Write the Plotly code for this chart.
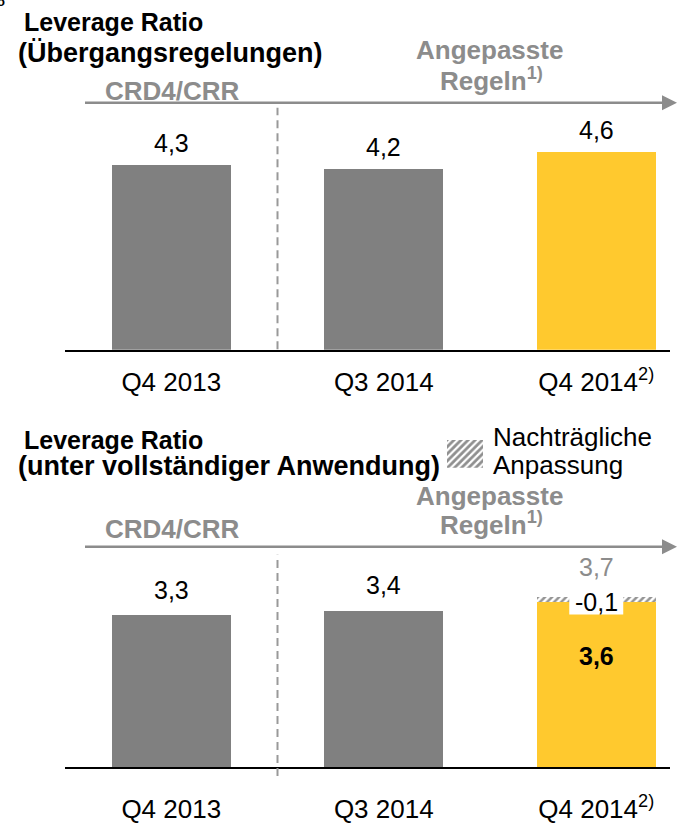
import plotly.graph_objects as go

# ---------------- data ----------------
categories = ["Q4 2013", "Q3 2014", "Q4 2014"]
tick_labels = ["Q4 2013", "Q3 2014", "Q4 2014<sup>2)</sup>"]
transitional_values = [4.3, 4.2, 4.6]          # Leverage Ratio (Übergangsregelungen)
fully_loaded_values = [3.3, 3.4, 3.6]          # Leverage Ratio (unter vollständiger Anwendung)
fully_loaded_reported = 3.7                    # before retrospective adjustment
adjustment = -0.1                              # Nachträgliche Anpassung

GRAY_BAR = "#808080"
YELLOW = "#FFC92E"
GRAY_TXT = "#8C8C8C"
bar_colors = [GRAY_BAR, GRAY_BAR, YELLOW]

W, H = 681, 824
FONT = "Liberation Sans, Arial, sans-serif"


def px(x):
    return x / W


def py(y):
    return 1 - y / H


def fmt(v):
    return f"{v:.1f}".replace(".", ",")


fig = go.Figure()

# top panel bars
fig.add_trace(go.Bar(x=categories, y=transitional_values, marker=dict(color=bar_colors, line=dict(width=0)),
                     width=0.56, xaxis="x", yaxis="y", hoverinfo="skip"))
# bottom panel bars
fig.add_trace(go.Bar(x=categories, y=fully_loaded_values, marker=dict(color=bar_colors, line=dict(width=0)),
                     width=0.56, xaxis="x2", yaxis="y2", hoverinfo="skip"))
# hatched adjustment on top of Q4 2014
fig.add_trace(go.Bar(x=[categories[2]], y=[-adjustment], base=[fully_loaded_values[2]],
                     marker=dict(color="white", line=dict(width=0),
                                 pattern=dict(shape="/", fgcolor="#2a2a2a", bgcolor="white", size=5, solidity=0.5)),
                     width=0.56, xaxis="x2", yaxis="y2", hoverinfo="skip"))
# legend key (hatched square)
fig.add_trace(go.Bar(x=[0.5], y=[1], width=1,
                     marker=dict(color="white", line=dict(width=0),
                                 pattern=dict(shape="/", fgcolor="#1f1f1f", bgcolor="white", size=5, solidity=0.55)),
                     xaxis="x3", yaxis="y3", hoverinfo="skip"))

top_base, top_top, top_ppu = 350.7, 103, 43.2
bot_base, bot_top, bot_ppu = 769, 548, 46.2
x_left, x_right, step = 65, 670, 212.5
xrange_ = [-0.5, -0.5 + (x_right - x_left) / step]

xaxis_common = dict(type="category", tickvals=categories, ticktext=tick_labels, range=xrange_,
                    showline=True, linecolor="black", linewidth=2, ticks="", showgrid=False,
                    zeroline=False, tickfont=dict(family=FONT, size=26, color="black"), fixedrange=True)

fig.update_layout(
    width=W, height=H, margin=dict(l=0, r=0, t=0, b=0),
    paper_bgcolor="white", plot_bgcolor="white", showlegend=False, barmode="overlay",
    bargap=0,
    xaxis=dict(domain=[px(x_left), px(x_right)], anchor="y", ticklabelstandoff=8, **xaxis_common),
    yaxis=dict(domain=[py(top_base), py(top_top)], range=[0, (top_base - top_top) / top_ppu], visible=False,
               fixedrange=True),
    xaxis2=dict(domain=[px(x_left), px(x_right)], anchor="y2", ticklabelstandoff=18, **xaxis_common),
    yaxis2=dict(domain=[py(bot_base), py(bot_top)], range=[0, (bot_base - bot_top) / bot_ppu], visible=False,
                fixedrange=True),
    xaxis3=dict(domain=[px(447), px(483)], anchor="y3", range=[0, 1], visible=False, fixedrange=True),
    yaxis3=dict(domain=[py(469), py(441)], range=[0, 1], visible=False, fixedrange=True),
)

ann = []


def text(x, y, s, size=26, color="black", bold=False, xanchor="left", xref="paper", yref="paper",
         yanchor="middle", yshift=0):
    if bold:
        s = f"<b>{s}</b>"
    ann.append(dict(x=x, y=y, xref=xref, yref=yref, text=s, showarrow=False, xanchor=xanchor,
                    yanchor=yanchor, yshift=yshift, font=dict(family=FONT, size=size, color=color),
                    borderpad=0))


# titles
text(px(23), py(22), "Leverage Ratio", size=25, bold=True)
text(px(17), py(53), "(Übergangsregelungen)", size=27, bold=True)
text(px(23), py(441), "Leverage Ratio", size=25, bold=True)
text(px(17), py(467), "(unter vollständiger Anwendung)", size=27, bold=True)
text(px(1), py(2), "o", size=13, bold=True, xanchor="center")

# legend text
text(px(492), py(438), "Nachträgliche")
text(px(492), py(466), "Anpassung")

# regime labels
for (yc, ya, yr) in [(91, 50, 80), (530, 497, 525)]:
    text(px(173), py(yc), "CRD4/CRR", color=GRAY_TXT, bold=True, xanchor="center")
    text(px(489), py(ya), "Angepasste", color=GRAY_TXT, bold=True, xanchor="center")
    text(px(491), py(yr), "Regeln<sup>1)</sup>", color=GRAY_TXT, bold=True, xanchor="center")

# value labels
for c, v in zip(categories, transitional_values):
    text(c, v, fmt(v), size=25, xanchor="center", xref="x", yref="y", yshift=22)
for c, v in zip(categories[:2], fully_loaded_values[:2]):
    text(c, v, fmt(v), size=25, xanchor="center", xref="x2", yref="y2", yshift=25)
text(categories[2], fully_loaded_reported, fmt(fully_loaded_reported), size=25, color=GRAY_TXT,
     xanchor="center", xref="x2", yref="y2", yshift=30)
text(categories[2], fully_loaded_reported, fmt(adjustment), size=25, xanchor="center", xref="x2", yref="y2",
     yshift=-5)
text(categories[2], fully_loaded_values[2] / 2, fmt(fully_loaded_values[2]), size=25, bold=True,
     xanchor="center", xref="x2", yref="y2", yshift=28)

fig.update_layout(annotations=ann)

shapes = []
# arrows
for ya in [103, 548]:
    shapes.append(dict(type="line", xref="paper", yref="paper", x0=px(85), x1=px(664), y0=py(ya), y1=py(ya),
                       line=dict(color=GRAY_TXT, width=2.5)))
    shapes.append(dict(type="path", xref="paper", yref="paper",
                       path=f"M {px(662)},{py(ya - 7.5)} L {px(677)},{py(ya)} L {px(662)},{py(ya + 7.5)} Z",
                       fillcolor=GRAY_TXT, line=dict(width=0)))
# dashed separators (between category 0 and 1)
shapes.append(dict(type="line", xref="x", yref="paper", x0=0.5, x1=0.5, y0=py(350), y1=py(108),
                   line=dict(color="#999999", width=2, dash="8px,5px")))
shapes.append(dict(type="line", xref="x2", yref="paper", x0=0.5, x1=0.5, y0=py(778), y1=py(556),
                   line=dict(color="#999999", width=2, dash="8px,5px")))
# white cut-out behind the adjustment label
shapes.append(dict(type="rect", xref="x2", yref="y2", x0=2 - 0.127, x1=2 + 0.127,
                   y0=fully_loaded_reported - 18 / bot_ppu, y1=fully_loaded_reported,
                   fillcolor="white", line=dict(width=0), layer="above"))
fig.update_layout(shapes=shapes)

fig.write_html("out.html", config={"displayModeBar": False},
               post_script="document.body.style.margin='0';document.body.style.overflow='hidden';")
